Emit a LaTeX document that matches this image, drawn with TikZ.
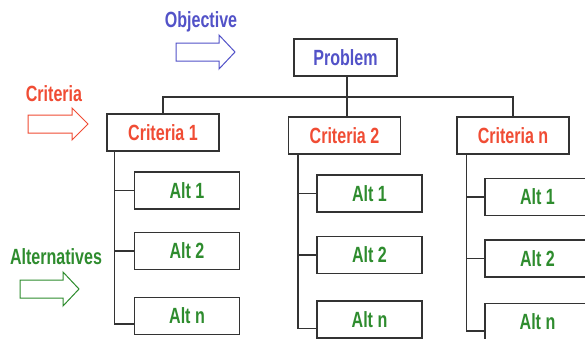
\documentclass[tikz,border=0pt]{standalone}
\usepackage{fontspec}
\setmainfont{Liberation Sans}[FakeStretch=0.73]
\usetikzlibrary{arrows.meta, positioning}

\definecolor{objblue}{RGB}{82,82,200}
\definecolor{critred}{RGB}{240,76,52}
\definecolor{altgreen}{RGB}{46,140,46}

\begin{document}
\begin{tikzpicture}[
            x=1pt, y=-1pt,
            box/.style={draw=black!80, line width=1.2pt, fill=white,
                        minimum height=37pt, inner sep=0pt,
                        font=\fontsize{22}{24}\selectfont\bfseries},
            probbox/.style={box, minimum width=103pt, text=objblue},
            critbox/.style={box, minimum width=112pt, text=critred},
            altbox/.style={box, minimum width=105pt, text=altgreen},
            link/.style={draw=black!80, line width=1.2pt},
            hint/.style={font=\fontsize{22}{24}\selectfont\bfseries},
            fatarrow/.style={line width=1pt, line join=miter}]

            \useasboundingbox[fill=white] (0,0) rectangle (585,338);

            %% -- Nodes -----------------------------------------------------
            \node[probbox] (prob)  at (345.5,57.5)  {Problem};
            \node[critbox] (crit1) at (163,132.5)   {Criteria 1};
            \node[critbox] (crit2) at (344.5,135.5) {Criteria 2};
            \node[critbox] (critn) at (513,135.5)   {Criteria n};

            \node[altbox] (alt11) at (187,190.5)   {Alt 1};
            \node[altbox] (alt12) at (187,251)     {Alt 2};
            \node[altbox] (alt1n) at (187,316)     {Alt n};
            \node[altbox] (alt21) at (369.5,193.5) {Alt 1};
            \node[altbox] (alt22) at (369.5,255)   {Alt 2};
            \node[altbox] (alt2n) at (369.5,319.5) {Alt n};
            \node[altbox] (alt31) at (537.5,197)   {Alt 1};
            \node[altbox] (alt32) at (537.5,258.5) {Alt 2};
            \node[altbox] (alt3n) at (537.5,322)   {Alt n};

            %% -- Hints on the left -----------------------------------------
            \node[hint, text=objblue]  (objtxt)  at (201,22)  {Objective};
            \node[hint, text=critred]  (crittxt) at (54,94)   {Criteria};
            \node[hint, text=altgreen] (alttxt)  at (56,257)  {Alternatives};

            \draw[fatarrow, draw=objblue] (176,43) -- ++(43,0) -- ++(0,-8)
                -- ++(16,17) -- ++(-16,17) -- ++(0,-8) -- ++(-43,0) -- cycle;
            \draw[fatarrow, draw=critred] (28,115) -- ++(44,0) -- ++(0,-7)
                -- ++(16,16) -- ++(-16,16) -- ++(0,-7) -- ++(-44,0) -- cycle;
            \draw[fatarrow, draw=altgreen] (20,280) -- ++(43,0) -- ++(0,-8)
                -- ++(16,17) -- ++(-16,17) -- ++(0,-8) -- ++(-43,0) -- cycle;

            %% -- Connectors ------------------------------------------------
            \coordinate (bar) at (347,97);
            \draw[link] (prob.south -| bar) -- (bar) -- (crit2.north -| bar);
            \draw[link] (crit1.north) |- (bar) -| (critn.north);

            \draw[link] ([xshift=8pt]crit1.south west) |- ([yshift=-8pt]alt1n.west);
            \draw[link] (alt11.west) -- ++(-20,0);
            \draw[link] (alt12.west) -- ++(-20,0);

            \draw[link] ([xshift=10pt]crit2.south west) |- ([yshift=-9pt]alt2n.west);
            \draw[link] (alt21.west) -- ++(-19,0);
            \draw[link] (alt22.west) -- ++(-19,0);

            \draw[link] ([xshift=10pt]critn.south west) |- ([yshift=-9pt]alt3n.west);
            \draw[link] (alt31.west) -- ++(-18,0);
            \draw[link] (alt32.west) -- ++(-18,0);

        \end{tikzpicture}
\end{document}
